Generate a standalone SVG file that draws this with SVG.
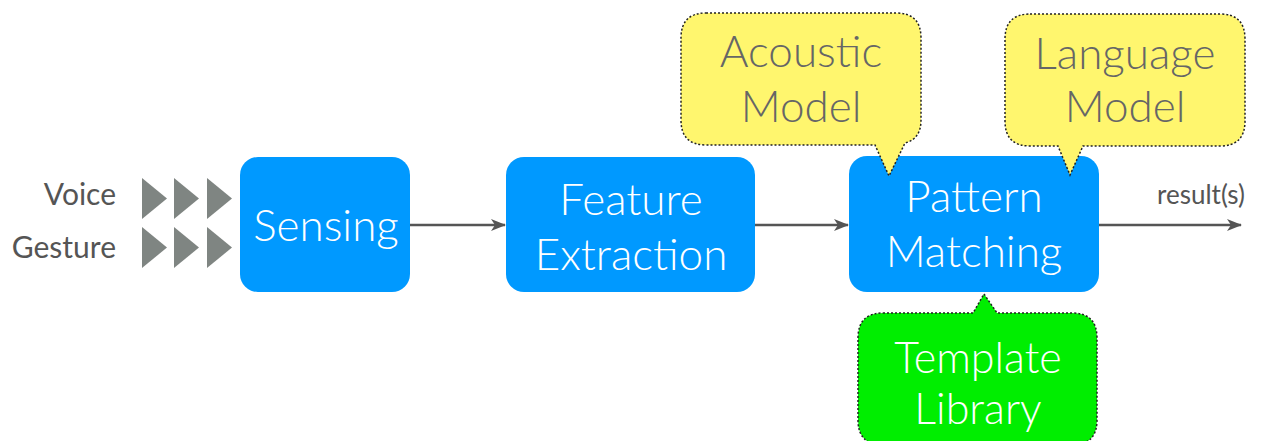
<svg xmlns="http://www.w3.org/2000/svg" width="1265" height="441" viewBox="0 0 1265 441">
<defs>
<style>
.box{fill:#0099ff}
.bt{fill:#ffffff;font-family:Lato,"Open Sans",sans-serif;font-weight:300;font-size:44px;text-anchor:middle}
.ct{fill:#666666;font-family:Lato,"Open Sans",sans-serif;font-weight:300;font-size:44px;text-anchor:middle}
.lt{fill:#555555;font-family:Lato,"Open Sans",sans-serif;font-size:30px;text-anchor:end}
.call{stroke:#222;stroke-width:1.5;stroke-dasharray:2 2}
.tri{fill:#7f8582}
.con{stroke:#555555;stroke-width:2.5;fill:none;marker-end:url(#ah)}
</style>
<marker id="ah" viewBox="0 0 15 12" refX="14" refY="6" markerWidth="15" markerHeight="12" markerUnits="userSpaceOnUse" orient="auto">
<path d="M0,0 L15,6 L0,12 L4,6 Z" fill="#555555"/>
</marker>
</defs>
<rect width="1265" height="441" fill="#ffffff"/>
<g id="inputs">
<text class="lt" x="116" y="205">Voice</text>
<text class="lt" x="116" y="258">Gesture</text>
<polygon class="tri" points="142,178 167,198.5 142,219"/>
<polygon class="tri" points="174,178 199,198.5 174,219"/>
<polygon class="tri" points="207,178 232,198.5 207,219"/>
<polygon class="tri" points="142,227 167,247.5 142,268"/>
<polygon class="tri" points="174,227 199,247.5 174,268"/>
<polygon class="tri" points="207,227 232,247.5 207,268"/>
</g>
<g id="connectors">
<line class="con" x1="410" y1="225" x2="505" y2="225"/>
<line class="con" x1="755" y1="225" x2="848" y2="225"/>
<line class="con" x1="1099" y1="225" x2="1241" y2="225"/>
<text x="1201" y="204" fill="#555555" font-family="Lato,'Open Sans',sans-serif" font-size="26" text-anchor="middle">result(s)</text>
</g>
<g id="sensing">
<rect class="box" x="240" y="157" width="170" height="135" rx="18"/>
<text class="bt" x="326" y="241">Sensing</text>
</g>
<g id="feature-extraction">
<rect class="box" x="506" y="157" width="249" height="135" rx="18"/>
<text class="bt" x="631" y="215">Feature</text>
<text class="bt" x="631" y="270">Extraction</text>
</g>
<g id="pattern-matching">
<rect class="box" x="849" y="156" width="250" height="136" rx="18"/>
<text class="bt" x="974" y="212">Pattern</text>
<text class="bt" x="974" y="267">Matching</text>
</g>
<g id="acoustic-model">
<path class="call" fill="#fff66e" d="M706,13 H896 Q921,13 921,38 V120 Q921,139 905,143 L889,176 L875,145 H706 Q681,145 681,120 V38 Q681,13 706,13 Z"/>
<text class="ct" x="801" y="67">Acoustic</text>
<text class="ct" x="801" y="122">Model</text>
</g>
<g id="language-model">
<path class="call" fill="#fff66e" d="M1030,14 H1220 Q1245,14 1245,39 V121 Q1245,146 1220,146 H1083 L1070,175 L1058,146 H1030 Q1005,146 1005,121 V39 Q1005,14 1030,14 Z"/>
<text class="ct" x="1125" y="69">Language</text>
<text class="ct" x="1125" y="122">Model</text>
</g>
<g id="template-library">
<path class="call" fill="#00ee00" d="M883,313 H973 L984,294 L997,313 H1072 Q1097,313 1097,338 V420 Q1097,445 1072,445 H883 Q858,445 858,420 V338 Q858,313 883,313 Z"/>
<text x="978" y="373" fill="#ffffff" font-family="Lato,'Open Sans',sans-serif" font-weight="300" font-size="43" text-anchor="middle">Template</text>
<text x="978" y="424" fill="#ffffff" font-family="Lato,'Open Sans',sans-serif" font-weight="300" font-size="43" text-anchor="middle">Library</text>
</g>
</svg>
